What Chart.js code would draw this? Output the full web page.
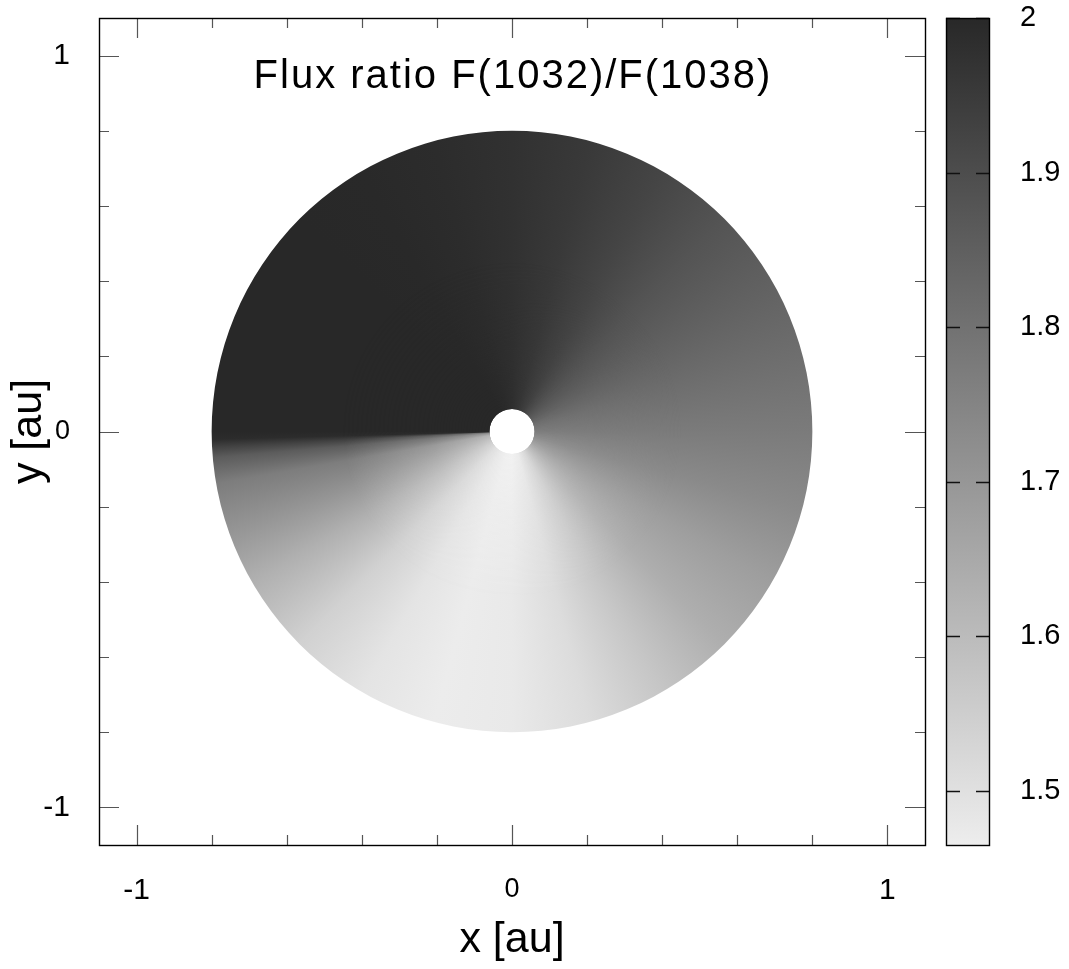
<!DOCTYPE html>
<html>
<head>
<meta charset="utf-8">
<script src="https://cdn.jsdelivr.net/npm/chart.js@4.4.1/dist/chart.umd.min.js"></script>
<style>
  html, body { margin: 0; padding: 0; background: #fff; }
  #wrap { position: relative; width: 1069px; height: 969px; }
  #main { position: absolute; left: 0; top: 0; }
  #cbar { position: absolute; left: 940px; top: 0; }
</style>
</head>
<body>
<div id="wrap">
  <canvas id="main" width="940" height="969"></canvas>
  <canvas id="cbar" width="129" height="969"></canvas>
</div>
<script>
/* ====== data ====== */
const TITLE = 'Flux ratio F(1032)/F(1038)';
const axisTicks = [-1, -0.8, -0.6, -0.4, -0.2, 0, 0.2, 0.4, 0.6, 0.8, 1];
const cbTicks = [1.5, 1.6, 1.7, 1.8, 1.9, 2];
const cbMin = 1.465, cbMax = 2.0;
const diskInner = 0.06, diskOuter = 0.8;   // au

// azimuth (deg, counter-clockwise from +x)
const azimuthDeg = [0, 15, 30, 45, 60, 75, 90, 105, 120, 135, 150, 165, 180, 181.5, 183, 185, 190, 200, 210, 225, 240, 255, 270, 285, 300, 315, 330, 345, 360];
// flux ratio over the bulk of the disk (r ~ 0.5 au)
const ratioOuter = [1.775, 1.81, 1.845, 1.88, 1.92, 1.955, 1.975, 1.99, 1.997, 2.0, 2.0, 2.0, 2.0, 1.99, 1.93, 1.86, 1.77, 1.70, 1.63, 1.54, 1.49, 1.468, 1.475, 1.51, 1.57, 1.635, 1.68, 1.735, 1.775];
// flux ratio next to the inner hole (r ~ 0.1 au)
const ratioInner = [1.77, 1.80, 1.845, 1.89, 1.935, 1.965, 1.985, 1.995, 2.0, 2.0, 2.0, 2.0, 2.0, 1.99, 1.78, 1.70, 1.62, 1.575, 1.54, 1.50, 1.475, 1.46, 1.455, 1.47, 1.52, 1.59, 1.66, 1.72, 1.77];

const FONT = '"Liberation Sans", Arial, Helvetica, sans-serif';
const BLEND_R = 0.45;  // au, where the inner profile has faded into the outer one

/* ====== helper ====== */
const GRAY_DARK = 40, GRAY_LIGHT = 237;
function grayOf(v){
  let t = (v - cbMin) / (cbMax - cbMin);
  t = Math.max(-0.05, Math.min(1, t));
  const g = Math.round(GRAY_LIGHT - t * (GRAY_LIGHT - GRAY_DARK));
  return `rgb(${g},${g},${g})`;
}
const isWhole = v => Math.abs(v - Math.round(v)) < 1e-9;
// keep the plot box fixed: no extra room for overhanging tick labels
const noOverhang = s => { s.paddingTop = 0; s.paddingBottom = 0; s.paddingLeft = 0; s.paddingRight = 0; };
const tickFontSize = c => (c.tick && Math.abs(c.tick.value) < 1e-9) ? 27 : 30;

function conic(ctx, cx, cy, values){
  // canvas angles run clockwise, so azimuth phi sits at offset (360-phi)/360
  const grad = ctx.createConicGradient(0, cx, cy);
  azimuthDeg
    .map((a, i) => ({off: (360 - a) / 360, v: values[i]}))
    .sort((p, q) => p.off - q.off)
    .forEach(s => grad.addColorStop(s.off, grayOf(s.v)));
  return grad;
}
function annulus(ctx, cx, cy, rxO, ryO, rxI, ryI){
  ctx.beginPath();
  ctx.ellipse(cx, cy, rxO, ryO, 0, 0, 2 * Math.PI);
  ctx.moveTo(cx + rxI, cy);
  ctx.ellipse(cx, cy, rxI, ryI, 0, 0, 2 * Math.PI);
}

/* ====== disk (annulus coloured by azimuth, inner profile fading out) ====== */
const diskPlugin = {
  id: 'disk',
  beforeDatasetsDraw(chart){
    const {ctx, scales: {x, y}} = chart;
    const cx = x.getPixelForValue(0), cy = y.getPixelForValue(0);
    const rxO = x.getPixelForValue(diskOuter) - cx, ryO = cy - y.getPixelForValue(diskOuter);
    const rxI = x.getPixelForValue(diskInner) - cx, ryI = cy - y.getPixelForValue(diskInner);
    const rB = x.getPixelForValue(BLEND_R) - cx;

    ctx.save();
    annulus(ctx, cx, cy, rxO, ryO, rxI, ryI);
    ctx.fillStyle = conic(ctx, cx, cy, ratioOuter);
    ctx.fill('evenodd');
    ctx.restore();

    const off = document.createElement('canvas');
    off.width = chart.canvas.width; off.height = chart.canvas.height;
    const o = off.getContext('2d');
    annulus(o, cx, cy, rxO, ryO, rxI, ryI);
    o.fillStyle = conic(o, cx, cy, ratioInner);
    o.fill('evenodd');
    o.globalCompositeOperation = 'destination-in';
    const mask = o.createRadialGradient(cx, cy, rxI, cx, cy, rB);
    mask.addColorStop(0, 'rgba(0,0,0,1)');
    mask.addColorStop(0.4, 'rgba(0,0,0,0.5)');
    mask.addColorStop(1, 'rgba(0,0,0,0)');
    o.fillStyle = mask;
    o.fillRect(0, 0, off.width, off.height);
    ctx.drawImage(off, 0, 0);
  }
};

/* ====== frame, mirrored inward ticks, title ====== */
const framePlugin = {
  id: 'frame',
  afterDatasetsDraw(chart){
    const {ctx, chartArea: a, scales: {x, y}} = chart;
    ctx.save();
    ctx.strokeStyle = '#555';
    ctx.lineWidth = 1.2;
    ctx.beginPath();
    axisTicks.forEach(v => {
      const len = isWhole(v) ? 20 : 10;
      const px = Math.round(x.getPixelForValue(v)) + 0.5;
      ctx.moveTo(px, a.bottom); ctx.lineTo(px, a.bottom - len);
      ctx.moveTo(px, a.top);    ctx.lineTo(px, a.top + len);
      const py = Math.round(y.getPixelForValue(v)) + 0.5;
      ctx.moveTo(a.left, py);  ctx.lineTo(a.left + len, py);
      ctx.moveTo(a.right, py); ctx.lineTo(a.right - len, py);
    });
    ctx.stroke();
    ctx.strokeStyle = '#000';
    ctx.lineWidth = 1.4;
    ctx.strokeRect(a.left + 0.5, a.top + 0.5, a.right - a.left, a.bottom - a.top);

    ctx.fillStyle = '#000';
    ctx.font = '40px ' + FONT;
    ctx.letterSpacing = '2px';
    ctx.textAlign = 'center';
    ctx.textBaseline = 'middle';
    ctx.fillText(TITLE, x.getPixelForValue(0) + 1, y.getPixelForValue(0.943));
    ctx.restore();
  }
};

new Chart(document.getElementById('main'), {
  type: 'scatter',
  data: {datasets: []},
  options: {
    responsive: false,
    animation: false,
    layout: {padding: {top: 18, right: 15, left: 0, bottom: 0}},
    plugins: {legend: {display: false}, tooltip: {enabled: false}},
    scales: {
      x: {
        type: 'linear', min: -1.1, max: 1.1,
        afterBuildTicks: s => { s.ticks = axisTicks.map(v => ({value: v})); },
        afterFit: s => { s.height = 124; noOverhang(s); },
        grid: {display: false, drawTicks: false},
        border: {display: false},
        ticks: {
          padding: 28, color: '#000', maxRotation: 0, autoSkip: false,
          font: {family: FONT, size: tickFontSize},
          callback: v => isWhole(v) ? String(Math.round(v)) : ''
        },
        title: {display: true, text: 'x [au]', color: '#000', font: {family: FONT, size: 43}, padding: {top: 0, bottom: 3}}
      },
      y: {
        type: 'linear', min: -1.1, max: 1.1,
        afterBuildTicks: s => { s.ticks = axisTicks.map(v => ({value: v})); },
        afterFit: s => { s.width = 99; noOverhang(s); },
        grid: {display: false, drawTicks: false},
        border: {display: false},
        ticks: {
          padding: 29, color: '#000', autoSkip: false,
          font: {family: FONT, size: tickFontSize},
          callback: v => isWhole(v) ? String(Math.round(v)) : ''
        },
        title: {display: true, text: 'y [au]', color: '#000', font: {family: FONT, size: 43}, padding: {top: 3, bottom: 0}}
      }
    }
  },
  plugins: [diskPlugin, framePlugin]
});

/* ====== colour bar ====== */
const cbarPlugin = {
  id: 'cbar',
  beforeDatasetsDraw(chart){
    const {ctx, chartArea: a, scales: {y}} = chart;
    const g = ctx.createLinearGradient(0, y.getPixelForValue(cbMax), 0, y.getPixelForValue(cbMin));
    g.addColorStop(0, grayOf(cbMax));
    g.addColorStop(1, grayOf(cbMin));
    ctx.save();
    ctx.fillStyle = g;
    ctx.fillRect(a.left, a.top, a.right - a.left, a.bottom - a.top);
    ctx.strokeStyle = '#111';
    ctx.lineWidth = 1.5;
    ctx.beginPath();
    cbTicks.forEach(v => {
      const py = Math.round(y.getPixelForValue(v)) + 0.5;
      ctx.moveTo(a.left, py);  ctx.lineTo(a.left + 14, py);
      ctx.moveTo(a.right, py); ctx.lineTo(a.right - 13, py);
    });
    ctx.stroke();
    ctx.strokeStyle = '#000';
    ctx.lineWidth = 1.4;
    ctx.strokeRect(a.left + 0.5, a.top + 0.5, a.right - a.left, a.bottom - a.top);
    ctx.restore();
  }
};

new Chart(document.getElementById('cbar'), {
  type: 'scatter',
  data: {datasets: []},
  options: {
    responsive: false,
    animation: false,
    layout: {padding: {top: 18, left: 6, right: 0, bottom: 124}},
    plugins: {legend: {display: false}, tooltip: {enabled: false}},
    scales: {
      x: {display: false, min: 0, max: 1},
      y: {
        position: 'right', min: cbMin, max: cbMax,
        afterBuildTicks: s => { s.ticks = cbTicks.map(v => ({value: v})); },
        afterFit: s => { s.width = 80; noOverhang(s); },
        grid: {display: false, drawTicks: false},
        border: {display: false},
        ticks: {padding: 31, color: '#000', font: {family: FONT, size: 29}, callback: v => v === 2 ? '2' : v.toFixed(1)}
      }
    }
  },
  plugins: [cbarPlugin]
});
</script>
</body>
</html>
